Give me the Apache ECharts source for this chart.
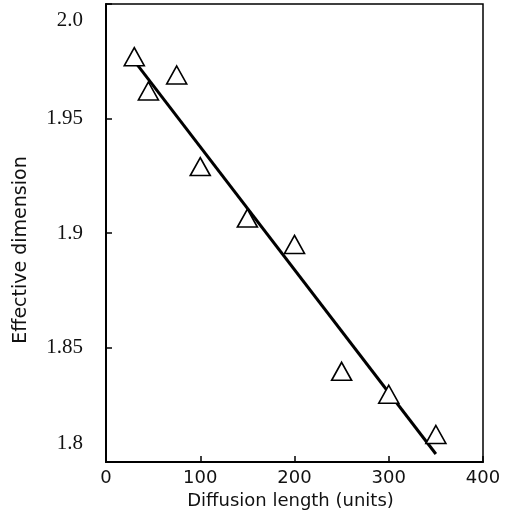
<!DOCTYPE html>
<html>
<head>
<meta charset="utf-8">
<title>Effective dimension vs diffusion length</title>
<script src="https://cdn.jsdelivr.net/npm/echarts@6/dist/echarts.min.js"></script>
<style>
  html, body { margin: 0; padding: 0; background: #fff; }
  #chart { width: 514px; height: 521px; }
</style>
</head>
<body>
<div id="chart"></div>
<script>
// measured points (triangles)
var diffLen = [30, 45, 75, 100, 150, 200, 250, 300, 350];
var effDim = [1.977, 1.962, 1.969, 1.929, 1.9065, 1.895, 1.8396, 1.8296, 1.812];
// fitted line end points
var fitX = [29, 350];
var fitY = [1.9757, 1.8035];

var pts = diffLen.map(function (x, i) { return [x, effDim[i]]; });
var fit = fitX.map(function (x, i) { return [x, fitY[i]]; });

var chart = echarts.init(document.getElementById('chart'));
chart.setOption({
  animation: false,
  grid: {
    left: 106, right: 31, top: 4, bottom: 59,
    show: true, borderColor: '#000', borderWidth: 1.5
  },
  xAxis: {
    type: 'value', min: 0, max: 400, interval: 100,
    name: 'Diffusion length (units)',
    nameLocation: 'middle', nameGap: 25,
    nameTextStyle: { fontFamily: 'DejaVu Sans', fontSize: 18, color: '#111', padding: [0, 8, 0, 0] },
    axisLine: { lineStyle: { color: '#000', width: 2 } },
    axisTick: { inside: true, length: 6, lineStyle: { color: '#000', width: 1.5 } },
    axisLabel: { margin: 7, fontFamily: 'DejaVu Sans', fontSize: 18, color: '#111' },
    splitLine: { show: false }
  },
  yAxis: {
    type: 'value', min: 1.8, max: 2.0, interval: 0.05,
    name: 'Effective dimension',
    nameLocation: 'middle', nameGap: 75,
    nameTextStyle: { fontFamily: 'DejaVu Sans', fontSize: 19, color: '#111', padding: [0, 34, 0, 0] },
    axisLine: { lineStyle: { color: '#000', width: 2 } },
    axisTick: { inside: true, length: 6, lineStyle: { color: '#000', width: 1.5 } },
    axisLabel: {
      margin: 23, fontFamily: 'Liberation Serif', fontSize: 21, color: '#111',
      formatter: function (v) {
        var s = (Math.round(v * 100) / 100).toString();
        if (s === '2') s = '2.0';
        if (Math.abs(v - 1.8) < 1e-6) return '{lo|' + s + '}';
        if (Math.abs(v - 2.0) < 1e-6) return '{hi|' + s + '}';
        return s;
      },
      rich: {
        lo: { fontFamily: 'Liberation Serif', fontSize: 21, color: '#111', padding: [0, 0, 38, 0] },
        hi: { fontFamily: 'Liberation Serif', fontSize: 21, color: '#111', padding: [32, 0, 0, 0] }
      }
    },
    splitLine: { show: false }
  },
  series: [
    {
      type: 'line', data: fit, symbol: 'none',
      lineStyle: { color: '#000', width: 3 }, z: 2
    },
    {
      type: 'scatter', data: pts, symbol: 'triangle', symbolSize: [20, 18],
      itemStyle: { color: '#fff', borderColor: '#000', borderWidth: 1.6, opacity: 1 },
      z: 3
    }
  ]
});
</script>
</body>
</html>
